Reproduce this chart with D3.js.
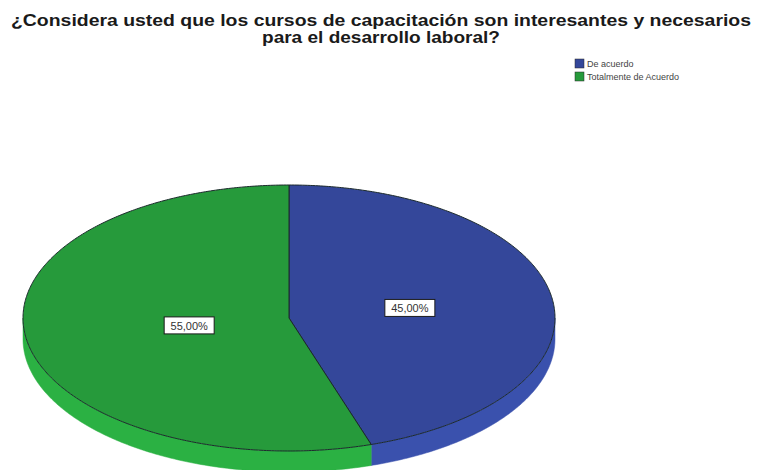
<!DOCTYPE html>
<html>
<head>
<meta charset="utf-8">
<script src="https://cdn.jsdelivr.net/npm/d3@7"></script>
<style>
  html, body { margin: 0; padding: 0; background: #ffffff; }
  svg { display: block; }
</style>
</head>
<body>
<svg id="chart" width="757" height="470"></svg>
<script>
// Survey answers and their shares (percent)
const categories = ["De acuerdo", "Totalmente de Acuerdo"];
const values = [45.0, 55.0];
const valueLabels = ["45,00%", "55,00%"];
const titleLines = [
  "¿Considera usted que los cursos de capacitación son interesantes y necesarios",
  "para el desarrollo laboral?"
];

// Appearance
const topColors = ["#34479a", "#269a3b"];
const sideColors = ["#3a51ad", "#2bb143"];
const labelRadius = [0.46, 0.38];   // fraction of the radius where each label sits
const titleWidths = [740, 238];     // rendered width of each title line

const svg = d3.select("#chart");

// Title
svg.append("g").selectAll("text")
  .data(titleLines)
  .join("text")
  .attr("x", 381)
  .attr("y", (d, i) => 26 + i * 17)
  .attr("text-anchor", "middle")
  .attr("font-family", "'Liberation Sans', Arial, sans-serif")
  .attr("font-weight", "bold")
  .attr("font-size", 16)
  .attr("fill", "#1a1a1a")
  .attr("textLength", (d, i) => titleWidths[i])
  .attr("lengthAdjust", "spacingAndGlyphs")
  .text(d => d);

// Legend
const legend = svg.append("g").attr("transform", "translate(575,59)");
const items = legend.selectAll("g").data(categories).join("g")
  .attr("transform", (d, i) => `translate(0,${i * 13})`);
items.append("rect")
  .attr("width", 9).attr("height", 9)
  .attr("fill", (d, i) => topColors[i])
  .attr("stroke", "#2a2a2a").attr("stroke-width", 0.5);
items.append("text")
  .attr("x", 12).attr("y", 8)
  .attr("font-family", "'Liberation Sans', Arial, sans-serif")
  .attr("font-size", 9)
  .attr("fill", "#444")
  .text(d => d);

// 3D pie geometry: elliptical top surface plus a visible front wall
const cx = 289, cy = 318, rx = 266, ry = 133, depth = 21;
const pie = d3.pie().sort(null).startAngle(0).endAngle(2 * Math.PI);
const arcs = pie(values);

// angle measured clockwise from 12 o'clock
const pt = (a, dy = 0) => [cx + rx * Math.sin(a), cy - ry * Math.cos(a) + dy];
const line = d3.line();
const sample = (a0, a1, dy) => {
  const n = Math.max(2, Math.ceil(Math.abs(a1 - a0) / 0.01));
  return d3.range(n + 1).map(k => pt(a0 + (a1 - a0) * k / n, dy));
};

const g = svg.append("g");

// Front walls: only the lower half of the ellipse (PI/2 .. 3PI/2) is visible
arcs.forEach((d, i) => {
  const a0 = Math.max(d.startAngle, Math.PI / 2);
  const a1 = Math.min(d.endAngle, 3 * Math.PI / 2);
  if (a1 <= a0) return;
  const pts = sample(a0, a1, 0).concat(sample(a1, a0, depth));
  g.append("path")
    .attr("d", line(pts) + "Z")
    .attr("fill", sideColors[i])
    .attr("stroke", sideColors[i])
    .attr("stroke-width", 0.5);
});

// Top surface slices
arcs.forEach((d, i) => {
  const pts = [[cx, cy]].concat(sample(d.startAngle, d.endAngle, 0));
  g.append("path")
    .attr("d", line(pts) + "Z")
    .attr("fill", topColors[i])
    .attr("stroke", "#1c2a2c")
    .attr("stroke-width", 1)
    .attr("stroke-linejoin", "round");
});

// Value labels in white boxes
arcs.forEach((d, i) => {
  const mid = (d.startAngle + d.endAngle) / 2;
  const f = labelRadius[i];
  const x = cx + rx * f * Math.sin(mid);
  const y = cy - ry * f * Math.cos(mid);
  const lg = g.append("g").attr("transform", `translate(${x},${y})`);
  lg.append("rect")
    .attr("x", -25).attr("y", -9)
    .attr("width", 50).attr("height", 17)
    .attr("fill", "#ffffff")
    .attr("stroke", "#1a1a1a").attr("stroke-width", 1);
  lg.append("text")
    .attr("text-anchor", "middle")
    .attr("y", 4)
    .attr("font-family", "'Liberation Sans', Arial, sans-serif")
    .attr("font-size", 11)
    .attr("fill", "#333")
    .text(valueLabels[i]);
});
</script>
</body>
</html>
